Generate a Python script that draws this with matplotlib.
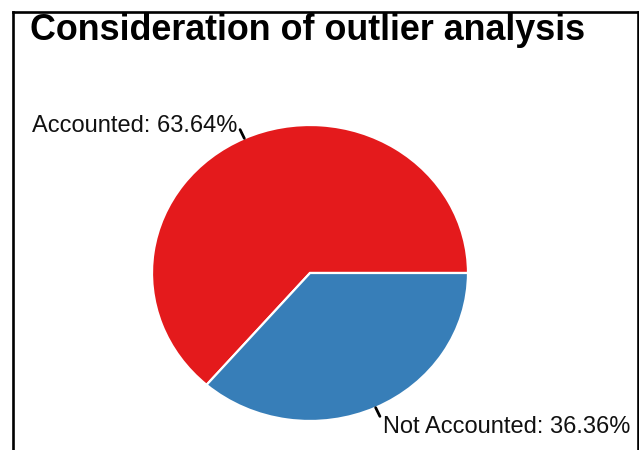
import numpy as np
import matplotlib.pyplot as plt
from matplotlib.lines import Line2D

# outlier analysis shares
labels = ["Accounted", "Not Accounted"]
shares = [63.64, 36.36]
colors = ["#E41A1C", "#377EB8"]
title = "Consideration of outlier analysis"

W, H = 639, 450
plt.rcParams['font.family'] = ['Liberation Sans', 'DejaVu Sans']

fig = plt.figure(figsize=(W / 100, H / 100), dpi=100)

# pie area in pixels: centre (310, 273), radii 158 x 148
cx, cy, rx, ry = 310, 273, 158, 148
ax = fig.add_axes([(cx - rx) / W, (H - cy - ry) / H, 2 * rx / W, 2 * ry / H])
wedges, _ = ax.pie(shares, colors=colors, startangle=0, counterclock=True,
                   wedgeprops=dict(edgecolor="white", linewidth=1.6))
ax.set_aspect('auto')
ax.set_xlim(-1, 1)
ax.set_ylim(-1, 1)

# leader ticks and labels
for w, lab, val in zip(wedges, labels, shares):
    mid = np.deg2rad((w.theta1 + w.theta2) / 2)
    c, s = np.cos(mid), np.sin(mid)
    ax.plot([c * 1.0, c * 1.065], [s * 1.0, s * 1.065], color="black",
            lw=2.0, clip_on=False, solid_capstyle="round")
    ha = "right" if c < 0 else "left"
    va = "baseline" if s > 0 else "top"
    dx = -3 if c < 0 else 3
    dy = -2 if s > 0 else 0
    ax.annotate(f"{lab}: {val:.2f}%", xy=(c * 1.065, s * 1.065),
                xytext=(dx, dy), textcoords="offset pixels",
                ha=ha, va=va, fontsize=17, color="#111111",
                annotation_clip=False)

fig.text(30 / W, (H - 40) / H, title, fontsize=25.8, fontweight="bold",
         ha="left", va="baseline", color="black")

# frame around the figure (left, top, right)
for xs, ys in [([12.5, 12.5], [0, H - 11.5]),
               ([12.5, 637.5], [H - 11.5, H - 11.5]),
               ([637.5, 637.5], [H - 11.5, 0])]:
    fig.add_artist(Line2D([x / W for x in xs], [y / H for y in ys],
                          transform=fig.transFigure, color="black", lw=1.9))

fig.savefig("out.png", dpi=100)
